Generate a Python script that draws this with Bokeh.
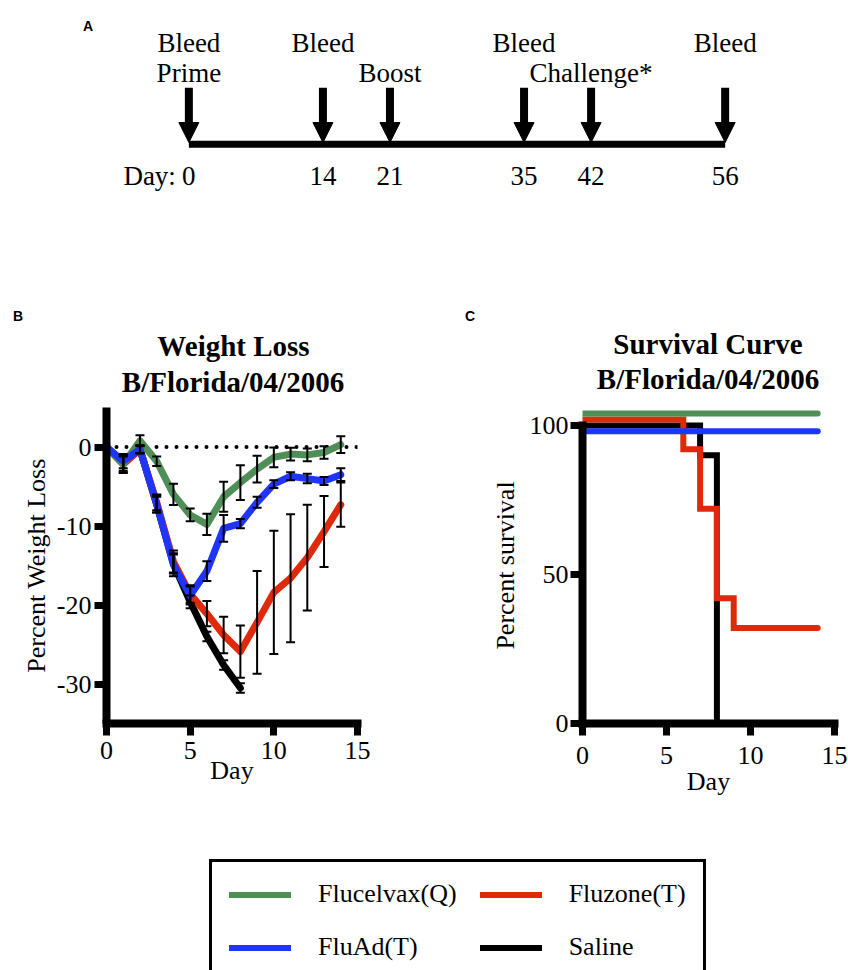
from bokeh.plotting import figure
from bokeh.models import (Range1d, FixedTicker, ColumnDataSource, Whisker, TeeHead, Span,
                          Label, Arrow, NormalHead, Legend, LegendItem)
from bokeh.layouts import column, row
from bokeh.transform import dodge
from bokeh.core.properties import value
from bokeh.embed import file_html
from bokeh.resources import INLINE

SERIF = "Liberation Serif"
SANS = "Liberation Sans"

GREEN = "#4f8e57"
RED = "#e0280a"
BLUE = "#2035fa"
BLACK = "#000000"

# ---------------- Panel A: schedule ----------------
timeline_days = [0, 14, 21, 35, 42, 56]
bleed_days = [0, 14, 35, 56]
event_days = [0, 21, 42]
event_labels = ["Prime", "Boost", "Challenge*"]

# ---------------- Panel B: weight loss (mean, SEM) ----------------
days = [0, 1, 2, 3, 4, 5, 6, 7, 8, 9, 10, 11, 12, 13, 14]
flucelvax_mean = [0, -2.2, 0.8, -1.8, -6.0, -8.6, -9.8, -6.3, -4.5, -2.8, -1.3, -0.9, -1.0, -0.7, 0.3]
flucelvax_sem = [0, 1.1, 0.7, 0.6, 1.35, 0.8, 1.35, 1.9, 2.2, 1.7, 1.25, 0.8, 0.8, 0.8, 1.05]
fluad_mean = [0, -1.8, -0.3, -7.2, -14.9, -18.8, -15.7, -10.3, -9.7, -7.0, -4.7, -3.7, -4.0, -4.3, -3.5]
fluad_sem = [0, 0.9, 0.5, 1.1, 1.45, 1.15, 1.25, 1.7, 0.6, 0.7, 0.5, 0.5, 0.6, 0.5, 0.8]
fluzone_mean = [0, -2.2, -0.3, -7.0, -14.5, -18.6, -21.1, -23.8, -25.9, -22.2, -18.4, -16.6, -14.0, -10.7, -7.3]
fluzone_sem = [0, 1.0, 0.5, 1.0, 1.4, 1.1, 1.6, 2.3, 3.3, 6.5, 7.8, 8.1, 6.7, 4.5, 2.8]
saline_days = [0, 1, 2, 3, 4, 5, 6, 7, 8]
saline_mean = [0, -2.0, -0.3, -7.3, -14.8, -19.6, -24.0, -27.6, -30.5]
saline_sem = [0, 1.0, 0.5, 1.0, 1.2, 0.8, 0.6, 0.6, 0.6]

# ---------------- Panel C: survival ----------------
flucelvax_surv_days = [0, 14]
flucelvax_surv = [100, 100]
fluad_surv_days = [0, 14]
fluad_surv = [100, 100]
fluzone_surv_days = [0, 6, 7, 8, 9, 14]
fluzone_surv = [100, 90, 70, 40, 30, 30]
saline_surv_days = [0, 7, 8]
saline_surv = [100, 90, 0]

series_names = ["Flucelvax(Q)", "Fluzone(T)", "FluAd(T)", "Saline"]
weight_yticks = [0, -10, -20, -30]
surv_yticks = [0, 50, 100]
day_ticks = [0, 5, 10, 15]

# ======================= Panel A (+ panel headers) =======================
HA = 400
pa = figure(width=848, height=HA, x_range=Range1d(-19.67, 68.88), y_range=Range1d(HA, 0),
            min_border=0, toolbar_location=None, output_backend="svg",
            x_axis_type=None, y_axis_type=None, title=None)
pa.outline_line_color = None
pa.grid.visible = False

ARROW_TOP, ARROW_TIP, BAR_Y = 87.3, 142.0, 143.8
arrow_src = ColumnDataSource(dict(x=timeline_days, y0=[ARROW_TOP] * len(timeline_days),
                                  y1=[ARROW_TIP] * len(timeline_days)))
pa.add_layout(Arrow(end=NormalHead(size=20, fill_color="black", line_color="black", line_width=1),
                    x_start="x", y_start="y0", x_end="x", y_end="y1", source=arrow_src,
                    line_width=8, line_color="black"))
pa.line(x=[timeline_days[0], timeline_days[-1]], y=[BAR_Y, BAR_Y], line_width=7,
        line_color="black", line_cap="butt")

txt = dict(text_font=value(SERIF), text_font_size="27px", text_color="black",
           text_align="center", text_baseline="middle")
pa.text(x=bleed_days, y=[42.5] * len(bleed_days), text=["Bleed"] * len(bleed_days), **txt)
pa.text(x=event_days, y=[72.3] * len(event_days), text=event_labels, **txt)
pa.text(x=timeline_days, y=[175.8] * len(timeline_days), text=[str(d) for d in timeline_days], **txt)
txt_r = dict(txt)
txt_r["text_align"] = "right"
pa.text(x=[timeline_days[0]], y=[175.8], text=["Day:"], x_offset=-13, **txt_r)


def letter(x, y, t):
    pa.add_layout(Label(x=x, y=HA - y, x_units="screen", y_units="screen", text=t,
                        text_font=SANS, text_font_style="bold", text_font_size="14px",
                        text_align="center", text_baseline="middle", text_color="black"))


def heading(x, y, t):
    pa.add_layout(Label(x=x, y=HA - y, x_units="screen", y_units="screen", text=t,
                        text_font=SERIF, text_font_style="bold", text_font_size="29px",
                        text_align="center", text_baseline="middle", text_color="black"))


letter(87.5, 25, "A")
letter(17.5, 315.3, "B")
letter(469.5, 315.5, "C")
heading(233, 345.3, "Weight Loss")
heading(232.5, 381.7, "B/Florida/04/2006")
heading(707.5, 343, "Survival Curve")
heading(707.5, 378.5, "B/Florida/04/2006")


def style_axes(p, xticks, yticks, xlabel, ylabel, xstand, ystand, xlab_stand, ylab_stand):
    for ax in (p.xaxis[0], p.yaxis[0]):
        ax.axis_line_width = 8
        ax.axis_line_color = "black"
        ax.major_tick_line_width = 7
        ax.major_tick_line_color = "black"
        ax.major_tick_in = 0
        ax.major_tick_out = 12
        ax.minor_tick_line_color = None
        ax.major_label_text_font = SERIF
        ax.major_label_text_font_size = "26px"
        ax.major_label_text_color = "black"
        ax.axis_label_text_font = SERIF
        ax.axis_label_text_font_size = "26px"
        ax.axis_label_text_font_style = "normal"
        ax.axis_label_text_color = "black"
    p.xaxis[0].ticker = FixedTicker(ticks=xticks)
    p.yaxis[0].ticker = FixedTicker(ticks=yticks)
    p.xaxis[0].major_label_overrides = {t: str(t) for t in xticks}
    p.yaxis[0].major_label_overrides = {t: str(t) for t in yticks}
    p.xaxis[0].axis_label = xlabel
    p.yaxis[0].axis_label = ylabel
    p.xaxis[0].major_label_standoff = xstand
    p.yaxis[0].major_label_standoff = ystand
    p.xaxis[0].axis_label_standoff = xlab_stand
    p.yaxis[0].axis_label_standoff = ylab_stand
    p.xaxis[0].axis_line_cap = "square"
    p.grid.visible = False
    p.outline_line_color = None


# ======================= Panel B =======================
pb = figure(width=440, height=430, x_range=Range1d(0, 15), y_range=Range1d(-35, 5),
            min_border_left=106, min_border_right=83, min_border_top=5, min_border_bottom=107,
            toolbar_location=None, output_backend="svg", title=None)
style_axes(pb, day_ticks, weight_yticks, "Day", "Percent Weight Loss", 6, 3, -6, 3)
pb.yaxis[0].axis_line_cap = "butt"

pb.add_layout(Span(location=0, dimension="width", line_color="black", line_width=4,
                   line_dash="0 10", line_cap="round", level="underlay"))

lw = dict(line_width=7, line_join="round", line_cap="round")
pb.line(saline_days, saline_mean, line_color=BLACK, **lw)
pb.line(days, fluzone_mean, line_color=RED, **lw)
pb.line(days, flucelvax_mean, line_color=GREEN, **lw)
pb.line(days, fluad_mean, line_color=BLUE, **lw)

wx, wu, wl = [], [], []
for dd, mm, ss in [(days, flucelvax_mean, flucelvax_sem), (days, fluad_mean, fluad_sem),
                   (days, fluzone_mean, fluzone_sem), (saline_days, saline_mean, saline_sem)]:
    for d, m, s in zip(dd, mm, ss):
        if s > 0:
            wx.append(d)
            wu.append(m + s)
            wl.append(m - s)
wsrc = ColumnDataSource(dict(x=wx, upper=wu, lower=wl))
pb.add_layout(Whisker(source=wsrc, base="x", upper="upper", lower="lower", dimension="height",
                      line_width=2, line_color="black", level="overlay",
                      upper_head=TeeHead(size=9, line_width=2, line_color="black"),
                      lower_head=TeeHead(size=9, line_width=2, line_color="black")))

# ======================= Panel C =======================
pc = figure(width=408, height=430, x_range=Range1d(0, 15), y_range=Range1d(0, 106),
            min_border_left=142, min_border_right=14, min_border_top=7, min_border_bottom=105,
            toolbar_location=None, output_backend="svg", title=None)
style_axes(pc, day_ticks, surv_yticks, "Day", "Percent survival", 11, 2, 0, 7)
pc.yaxis[0].bounds = (0, 100)
pc.yaxis[0].axis_line_cap = "square"

for dd, vv, off, col in [(saline_surv_days, saline_surv, 0, BLACK),
                         (fluzone_surv_days, fluzone_surv, 2, RED),
                         (fluad_surv_days, fluad_surv, -2, BLUE),
                         (flucelvax_surv_days, flucelvax_surv, 4, GREEN)]:
    src = ColumnDataSource(dict(x=dd, y=vv))
    pc.step(x="x", y=dodge("y", off), source=src, mode="after", line_width=6, line_color=col,
            line_join="miter", line_cap="round")

# ======================= Legend =======================
pl = figure(width=848, height=140, x_range=Range1d(100, 101), y_range=Range1d(100, 101),
            min_border_left=209, min_border_top=29, min_border_right=0, min_border_bottom=0,
            x_axis_type=None, y_axis_type=None, toolbar_location=None, output_backend="svg",
            title=None)
pl.outline_line_color = None
pl.grid.visible = False
r_fc = pl.line(days, flucelvax_mean, line_color=GREEN, line_width=6, line_cap="round")
r_fz = pl.line(days, fluzone_mean, line_color=RED, line_width=6, line_cap="round")
r_fa = pl.line(days, fluad_mean, line_color=BLUE, line_width=6, line_cap="round")
r_sa = pl.line(saline_days, saline_mean, line_color=BLACK, line_width=6, line_cap="round")
legend = Legend(items=[LegendItem(label=series_names[0], renderers=[r_fc]),
                       LegendItem(label=series_names[1], renderers=[r_fz]),
                       LegendItem(label=series_names[2], renderers=[r_fa]),
                       LegendItem(label=series_names[3], renderers=[r_sa])],
                location="top_left", orientation="horizontal", ncols=2, margin=0,
                padding=17, spacing=23, glyph_width=62, glyph_height=29, label_standoff=27,
                label_text_font=SERIF, label_text_font_size="26px", label_text_color="black",
                border_line_color="black", border_line_width=3, border_line_alpha=1.0,
                background_fill_alpha=1.0)
pl.add_layout(legend)

root = column(row(pa), row(pb, pc), row(pl))
open("out.html", "w").write(file_html(root, INLINE))
